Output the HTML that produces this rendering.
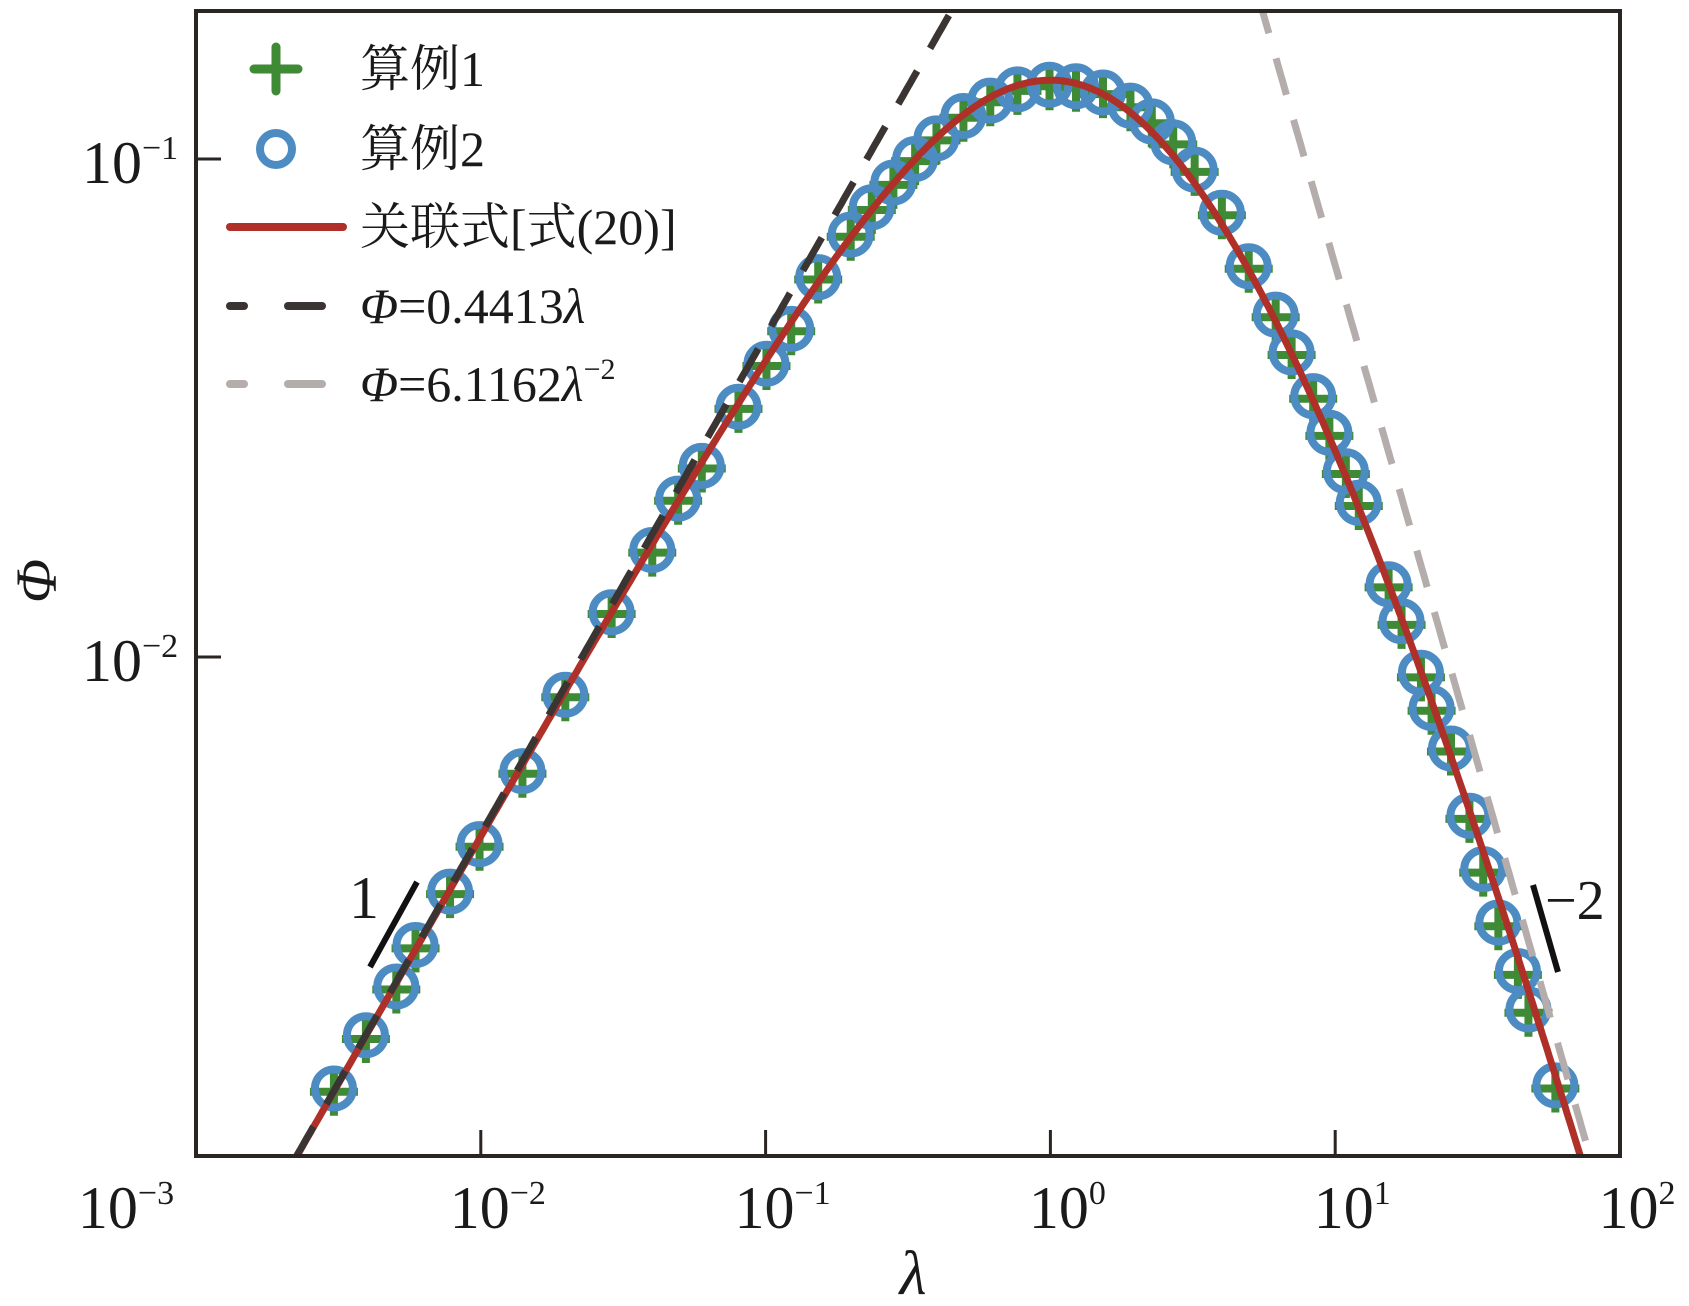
<!DOCTYPE html>
<html><head><meta charset="utf-8"><style>
html,body{margin:0;padding:0;background:#fff;width:1689px;height:1306px;overflow:hidden}
svg{display:block}
text{font-family:"Liberation Serif","Times New Roman",Times,"Noto Serif CJK SC",serif;fill:#1a1a1a}
</style></head><body>
<svg id="chart" width="1689" height="1306" viewBox="0 0 1689 1306" xmlns="http://www.w3.org/2000/svg" font-family="Liberation Serif, Times New Roman, Noto Serif CJK SC, serif">
<defs><clipPath id="pc"><rect x="196" y="11" width="1424" height="1145"/></clipPath></defs>
<g id="series" clip-path="url(#pc)"></g>
<rect x="196" y="11" width="1424" height="1145" fill="none" stroke="#2a2422" stroke-width="4"/>
<g id="ticks"></g>
<text x="913" y="1294" font-size="62" font-style="italic" text-anchor="middle">λ</text>
<text x="0" y="0" font-size="58" font-style="italic" text-anchor="middle" transform="translate(56,581) rotate(-90)">Φ</text>
<g>
<line x1="370" y1="967" x2="417" y2="882" stroke="#111" stroke-width="6"/>
<text x="364" y="918" font-size="60" text-anchor="middle">1</text>
</g>
<g>
<line x1="1533" y1="885" x2="1558" y2="972" stroke="#111" stroke-width="6"/>
<text x="1545" y="919" font-size="56">−2</text>
</g>
<g id="legend" font-size="50">
<g>
<line x1="254" y1="69" x2="298" y2="69" stroke="#3e8a35" stroke-width="9" stroke-linecap="round"/>
<line x1="276" y1="47" x2="276" y2="91" stroke="#3e8a35" stroke-width="9" stroke-linecap="round"/>
<text x="360" y="86">算例1</text></g>
<g>
<circle cx="276" cy="149" r="16" fill="none" stroke="#4c8cc2" stroke-width="8"/>
<text x="360" y="166">算例2</text></g>
<g>
<line x1="230" y1="227" x2="343" y2="227" stroke="#ae3029" stroke-width="8" stroke-linecap="round"/>
<text x="360" y="244">关联式[式(20)]</text></g>
<g>
<line x1="230" y1="306" x2="244" y2="306" stroke="#3a3432" stroke-width="8" stroke-linecap="round"/>
<line x1="288" y1="306" x2="322" y2="306" stroke="#3a3432" stroke-width="8" stroke-linecap="round"/>
<text x="360" y="323"><tspan font-style="italic">Φ</tspan>=0.4413<tspan font-style="italic">λ</tspan></text></g>
<g>
<line x1="230" y1="384" x2="244" y2="384" stroke="#b5adab" stroke-width="8" stroke-linecap="round"/>
<line x1="288" y1="384" x2="322" y2="384" stroke="#b5adab" stroke-width="8" stroke-linecap="round"/>
<text x="360" y="401"><tspan font-style="italic">Φ</tspan>=6.1162<tspan font-style="italic">λ</tspan><tspan font-size="30" dy="-22">−2</tspan></text></g>
</g>
</svg>
<script>
const lambdaVals=[0.00305,0.00395,0.00505,0.0059,0.0078,0.0099,0.0140,0.0198,0.0288,0.040,0.0493,0.0597,0.0803,0.1007,0.123,0.153,0.199,0.236,0.281,0.335,0.398,0.495,0.615,0.766,0.993,1.23,1.53,1.91,2.27,2.70,3.21,4.00,4.97,6.18,7.03,8.37,9.54,10.9,12.1,15.4,17.1,20.0,21.8,25.5,29.6,33.1,37.4,43.8,47.7,59.3];
const phiCase1=[0.00134,0.00171,0.00215,0.0026,0.00334,0.00416,0.00583,0.0083,0.0122,0.0162,0.0206,0.0239,0.0315,0.0384,0.0451,0.0573,0.0698,0.079,0.0887,0.099,0.109,0.121,0.130,0.137,0.140,0.139,0.135,0.127,0.118,0.107,0.0942,0.0771,0.0602,0.0481,0.0404,0.033,0.0278,0.0233,0.0201,0.0138,0.0116,0.0091,0.0078,0.00646,0.00473,0.00369,0.00288,0.0023,0.00193,0.00136];
const phiCase2=[0.00136,0.00174,0.00218,0.00264,0.00338,0.00421,0.0059,0.0084,0.0123,0.0164,0.0208,0.0242,0.0318,0.0388,0.0456,0.0579,0.0705,0.080,0.0897,0.100,0.110,0.122,0.131,0.138,0.141,0.140,0.136,0.128,0.119,0.108,0.0952,0.078,0.0609,0.0487,0.0409,0.0334,0.0282,0.0236,0.0204,0.014,0.0118,0.0093,0.0079,0.00655,0.0048,0.00375,0.00293,0.00234,0.00196,0.00138];
const corrCoefA=0.4413, corrCoefB=1.137, corrCoefC=0.856, corrCoefD=0.0722;
const linCoef=0.4413, powCoef=6.1162;
const xTickExps=[-3,-2,-1,0,1,2];
const yTickExps=[-1,-2];

const X0=196,X1=1620,YT=11,YB=1156;
const xs=l=>X0+(Math.log10(l)+3)*(X1-X0)/5;
const ys=p=>159+(-1-Math.log10(p))*498;
const NS="http://www.w3.org/2000/svg";
function mk(tag,attrs,parent){const e=document.createElementNS(NS,tag);for(const k in attrs)e.setAttribute(k,attrs[k]);parent.appendChild(e);return e;}
const S=document.getElementById('series');
const g1=mk('g',{},S);


lambdaVals.forEach((l,i)=>{const cx=xs(l),cy=ys(phiCase1[i]);
 const p=mk('path',{d:`M${cx-24},${cy}H${cx+24}M${cx},${cy-24}V${cy+24}`,stroke:'#3e8a35','stroke-width':8,fill:'none'},g1);
 
 });
const g2=mk('g',{},S);


lambdaVals.forEach((l,i)=>{const c=mk('circle',{cx:xs(l),cy:ys(phiCase2[i]),r:19,fill:'none',stroke:'#4c8cc2','stroke-width':8},g2);
 
 });
function curve(f,name,style){let d='';for(let i=0;i<=600;i++){const lg=-3.1+i*5.2/600,l=Math.pow(10,lg);const v=f(l);d+=(i?'L':'M')+xs(l).toFixed(1)+','+ys(v).toFixed(1);}
 const p=mk('path',Object.assign({d,fill:'none'},style),S);
 
 }
curve(l=>corrCoefA*l/(1+corrCoefB*l+corrCoefC*l*l+corrCoefD*l*l*l),'correlation-curve',{stroke:'#ae3029','stroke-width':7});
curve(l=>linCoef*l,'linear-asymptote',{stroke:'#3a3432','stroke-width':7,'stroke-dasharray':'38 26'});
curve(l=>powCoef/(l*l),'power-asymptote',{stroke:'#b5adab','stroke-width':7,'stroke-dasharray':'38 26'});
const T=document.getElementById('ticks');
xTickExps.forEach(e=>{const x=xs(Math.pow(10,e));
 if(e>-3&&e<2){const t=mk('line',{x1:x,y1:YB,x2:x,y2:YB-26,stroke:'#2a2422','stroke-width':3},T);
 
 }
 const lx=e===-3?126:x+17;
 const tx=mk('text',{x:lx,y:1228,'font-size':60,'text-anchor':'middle'},T);
 
 
 tx.innerHTML='10<tspan font-size="34" dy="-24">'+(e<0?'−'+(-e):e)+'</tspan>';});
yTickExps.forEach(e=>{const y=ys(Math.pow(10,e));
 const t=mk('line',{x1:X0,y1:y,x2:X0+25,y2:y,stroke:'#2a2422','stroke-width':3},T);
 
 
 const tx=mk('text',{x:82,y:y+24,'font-size':60},T);
 
 
 tx.innerHTML='10<tspan font-size="34" dy="-24">−'+(-e)+'</tspan>';});
</script>
</body></html>
